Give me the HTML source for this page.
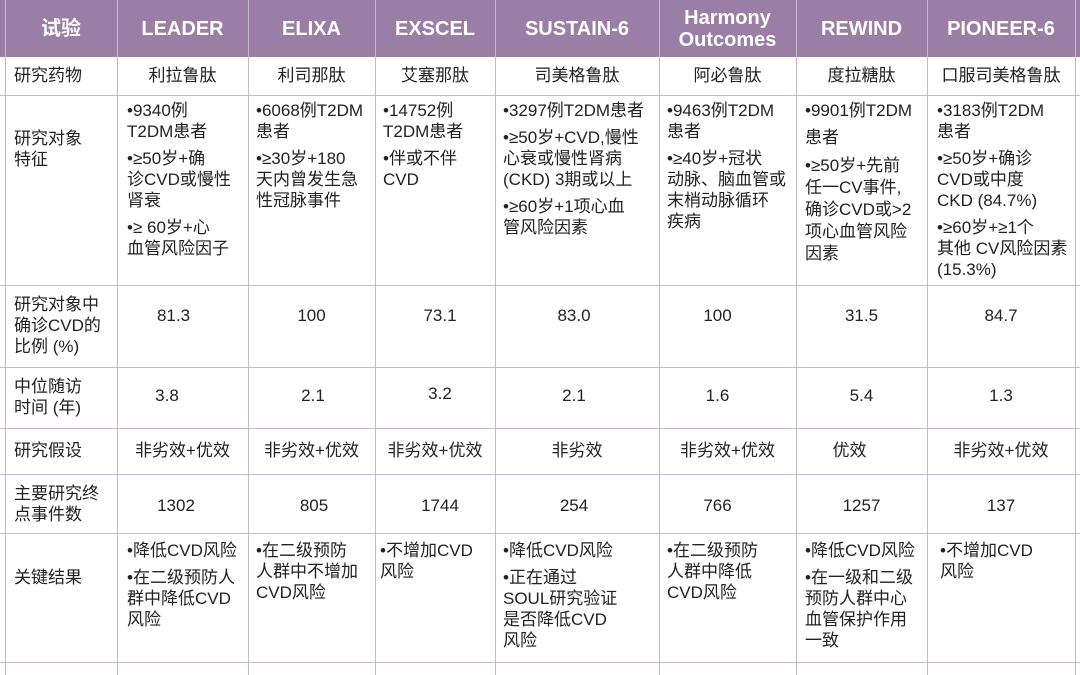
<!DOCTYPE html>
<html><head><meta charset="utf-8"><style>
body{margin:0;width:1080px;height:675px;background:#fff;overflow:hidden;position:relative;font-family:"Liberation Sans","Noto Sans CJK SC",sans-serif;color:#222;}
.hd{position:absolute;left:0;top:0;width:1080px;height:57px;background:#9a7ea6;}
.v{position:absolute;top:0;height:675px;width:1px;background:#c8b8cf;}
.h{position:absolute;left:0;width:1080px;height:1px;background:#c8b8cf;}
.t{position:absolute;font-size:17px;line-height:21px;white-space:nowrap;}
.c{text-align:center;}
.th{position:absolute;top:0;height:57px;display:flex;align-items:center;justify-content:center;color:#fff;font-weight:bold;font-size:20px;line-height:22px;text-align:center;}
.p{margin-bottom:6px;}
</style></head><body>
<div class="hd"></div>
<div class="v" style="left:5px"></div><div class="v" style="left:117px"></div><div class="v" style="left:248px"></div><div class="v" style="left:375px"></div><div class="v" style="left:495px"></div><div class="v" style="left:659px"></div><div class="v" style="left:796px"></div><div class="v" style="left:927px"></div><div class="v" style="left:1075px"></div>
<div class="h" style="top:95px"></div><div class="h" style="top:285px"></div><div class="h" style="top:367px"></div><div class="h" style="top:428px"></div><div class="h" style="top:474px"></div><div class="h" style="top:533px"></div><div class="h" style="top:662px"></div>
<div class="th" style="left:5px;width:112px">试验</div>
<div class="th" style="left:117px;width:131px">LEADER</div>
<div class="th" style="left:248px;width:127px">ELIXA</div>
<div class="th" style="left:375px;width:120px">EXSCEL</div>
<div class="th" style="left:495px;width:164px">SUSTAIN-6</div>
<div class="th" style="left:659px;width:137px">Harmony<br>Outcomes</div>
<div class="th" style="left:796px;width:131px">REWIND</div>
<div class="th" style="left:927px;width:148px">PIONEER-6</div>

<div class="t" style="left:14px;top:65px">研究药物</div>
<div class="t c" style="left:117px;width:131px;top:65px">利拉鲁肽</div>
<div class="t c" style="left:248px;width:127px;top:65px">利司那肽</div>
<div class="t c" style="left:375px;width:120px;top:65px">艾塞那肽</div>
<div class="t c" style="left:495px;width:164px;top:65px">司美格鲁肽</div>
<div class="t c" style="left:659px;width:137px;top:65px">阿必鲁肽</div>
<div class="t c" style="left:796px;width:131px;top:65px">度拉糖肽</div>
<div class="t c" style="left:927px;width:148px;top:65px">口服司美格鲁肽</div>

<div class="t" style="left:14px;top:128px">研究对象<br>特征</div>
<div class="t" style="left:127px;top:100px"><div class="p">•9340例<br>T2DM患者</div><div class="p">•≥50岁+确<br>诊CVD或慢性<br>肾衰</div><div>•≥ 60岁+心<br>血管风险因子</div></div>
<div class="t" style="left:256px;top:100px"><div class="p">•6068例T2DM<br>患者</div><div>•≥30岁+180<br>天内曾发生急<br>性冠脉事件</div></div>
<div class="t" style="left:383px;top:100px"><div class="p">•14752例<br>T2DM患者</div><div>•伴或不伴<br>CVD</div></div>
<div class="t" style="left:503px;top:100px"><div class="p">•3297例T2DM患者</div><div class="p">•≥50岁+CVD,慢性<br>心衰或慢性肾病<br>(CKD) 3期或以上</div><div>•≥60岁+1项心血<br>管风险因素</div></div>
<div class="t" style="left:667px;top:100px"><div class="p">•9463例T2DM<br>患者</div><div>•≥40岁+冠状<br>动脉、脑血管或<br>末梢动脉循环<br>疾病</div></div>
<div class="t" style="left:805px;top:100px;line-height:22px"><div>•9901例T2DM</div><div class="p" style="margin-top:5px">患者</div><div>•≥50岁+先前<br>任一CV事件,<br>确诊CVD或&gt;2<br>项心血管风险<br>因素</div></div>
<div class="t" style="left:937px;top:100px"><div class="p">•3183例T2DM<br>患者</div><div class="p">•≥50岁+确诊<br>CVD或中度<br>CKD (84.7%)</div><div>•≥60岁+≥1个<br>其他 CV风险因素<br>(15.3%)</div></div>

<div class="t" style="left:14px;top:294px">研究对象中<br>确诊CVD的<br>比例 (%)</div>
<div class="t c" style="left:117px;width:113px;top:305px">81.3</div>
<div class="t c" style="left:248px;width:127px;top:305px">100</div>
<div class="t c" style="left:375px;width:130px;top:305px">73.1</div>
<div class="t c" style="left:495px;width:158px;top:305px">83.0</div>
<div class="t c" style="left:659px;width:117px;top:305px">100</div>
<div class="t c" style="left:796px;width:131px;top:305px">31.5</div>
<div class="t c" style="left:927px;width:148px;top:305px">84.7</div>

<div class="t" style="left:14px;top:376px">中位随访<br>时间 (年)</div>
<div class="t c" style="left:117px;width:100px;top:385px">3.8</div>
<div class="t c" style="left:248px;width:130px;top:385px">2.1</div>
<div class="t c" style="left:375px;width:130px;top:383px">3.2</div>
<div class="t c" style="left:495px;width:158px;top:385px">2.1</div>
<div class="t c" style="left:659px;width:117px;top:385px">1.6</div>
<div class="t c" style="left:796px;width:131px;top:385px">5.4</div>
<div class="t c" style="left:927px;width:148px;top:385px">1.3</div>

<div class="t" style="left:14px;top:440px">研究假设</div>
<div class="t c" style="left:117px;width:131px;top:440px">非劣效+优效</div>
<div class="t c" style="left:248px;width:127px;top:440px">非劣效+优效</div>
<div class="t c" style="left:375px;width:120px;top:440px">非劣效+优效</div>
<div class="t c" style="left:495px;width:164px;top:440px">非劣效</div>
<div class="t c" style="left:659px;width:137px;top:440px">非劣效+优效</div>
<div class="t c" style="left:796px;width:107px;top:440px">优效</div>
<div class="t c" style="left:927px;width:148px;top:440px">非劣效+优效</div>

<div class="t" style="left:14px;top:483px">主要研究终<br>点事件数</div>
<div class="t c" style="left:117px;width:118px;top:495px">1302</div>
<div class="t c" style="left:248px;width:132px;top:495px">805</div>
<div class="t c" style="left:375px;width:130px;top:495px">1744</div>
<div class="t c" style="left:495px;width:158px;top:495px">254</div>
<div class="t c" style="left:659px;width:117px;top:495px">766</div>
<div class="t c" style="left:796px;width:131px;top:495px">1257</div>
<div class="t c" style="left:927px;width:148px;top:495px">137</div>

<div class="t" style="left:14px;top:567px">关键结果</div>
<div class="t" style="left:127px;top:540px"><div class="p">•降低CVD风险</div><div>•在二级预防人<br>群中降低CVD<br>风险</div></div>
<div class="t" style="left:256px;top:540px">•在二级预防<br>人群中不增加<br>CVD风险</div>
<div class="t" style="left:380px;top:540px">•不增加CVD<br>风险</div>
<div class="t" style="left:503px;top:540px"><div class="p">•降低CVD风险</div><div>•正在通过<br>SOUL研究验证<br>是否降低CVD<br>风险</div></div>
<div class="t" style="left:667px;top:540px">•在二级预防<br>人群中降低<br>CVD风险</div>
<div class="t" style="left:805px;top:540px"><div class="p">•降低CVD风险</div><div>•在一级和二级<br>预防人群中心<br>血管保护作用<br>一致</div></div>
<div class="t" style="left:940px;top:540px">•不增加CVD<br>风险</div>
</body></html>
